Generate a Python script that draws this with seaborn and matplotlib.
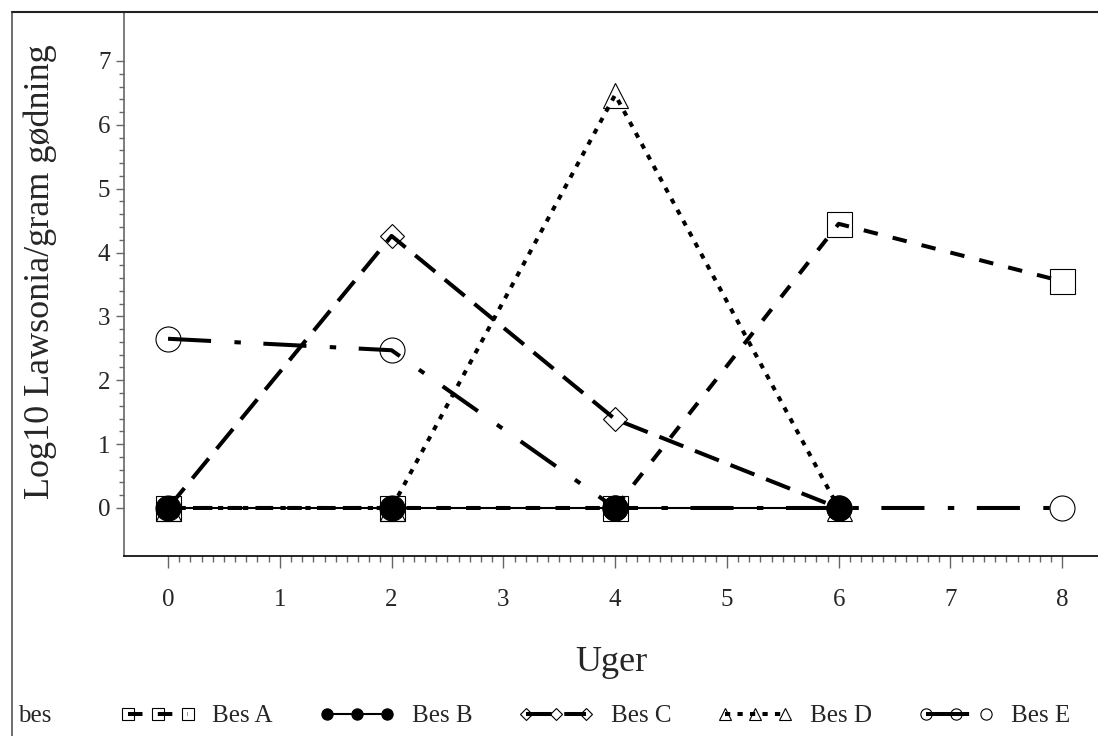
import matplotlib
matplotlib.use("Agg")
import matplotlib.pyplot as plt
from matplotlib.lines import Line2D
from matplotlib.ticker import FixedLocator
import seaborn as sns

# data (log10 Lawsonia per gram manure)
uger = [0, 2, 4, 6, 8]
bes_a = [0.0, 0.0, 0.0, 4.45, 3.55]
bes_b = [0.0, 0.0, 0.0, 0.0]
bes_c = [0.0, 4.26, 1.39, 0.0]
bes_d = [0.0, 0.0, 6.47, 0.0]
bes_e = [2.65, 2.47, 0.0, 0.0, 0.0]
navne = ["Bes A", "Bes B", "Bes C", "Bes D", "Bes E"]

serier = {
    "Bes A": bes_a,
    "Bes B": bes_b,
    "Bes C": bes_c,
    "Bes D": bes_d,
    "Bes E": bes_e,
}

# marker, marker size, face colour, dash pattern (in linewidths), line width
stil = {
    "Bes A": ("s", 18, "none", (0, (3.6, 3.8)), 2.9),
    "Bes B": ("o", 18, "black", "-", 1.5),
    "Bes C": ("D", 12.7, "none", (0, (6.4, 3.1)), 2.9),
    "Bes D": ("^", 18, "none", (0, (1.3, 1.8)), 2.9),
    "Bes E": ("o", 18, "none", (0, (10.7, 5.8, 1.6, 5.6)), 2.9),
}

sns.set_style("ticks")
plt.rcParams["font.family"] = ["Liberation Serif", "DejaVu Serif"]

fig = plt.figure(figsize=(10.98, 7.36), dpi=100)
ax = fig.add_axes([124 / 1098, 180 / 736, 974 / 1098, 544 / 736])

# draw B last so the filled circles sit on top
for navn in ["Bes A", "Bes C", "Bes D", "Bes E", "Bes B"]:
    marker, ms, mfc, ls, lw = stil[navn]
    verdier = serier[navn]
    sns.lineplot(
        x=uger[: len(verdier)],
        y=verdier,
        ax=ax,
        color="black",
        linewidth=lw,
        linestyle=ls,
        marker=marker,
        markersize=ms,
        markerfacecolor=mfc,
        markeredgecolor="black",
        markeredgewidth=0.8,
        label=navn,
    )

if ax.get_legend() is not None:
    ax.get_legend().remove()

ax.set_xlim(-0.394, 8.32)
ax.set_ylim(-0.752, 7.767)
ax.set_xticks(range(0, 9))
ax.set_yticks(range(0, 8))
x_minor = [v / 10 for v in range(1, 80) if v % 10 != 0]
y_minor = [v / 5 for v in range(1, 35) if v % 5 != 0]
ax.xaxis.set_minor_locator(FixedLocator(x_minor))
ax.yaxis.set_minor_locator(FixedLocator(y_minor))

ax.tick_params(axis="x", which="major", length=8.6, width=1, color="#666666",
               pad=15, labelsize=18)
ax.tick_params(axis="x", which="minor", length=4.3, width=1, color="#666666")
ax.tick_params(axis="y", which="major", length=5.8, width=1, color="#666666",
               pad=4, labelsize=18)
ax.tick_params(axis="y", which="minor", length=3.6, width=1, color="#666666")

sns.despine(ax=ax, top=True, right=True)
ax.spines["left"].set_color("#666666")
ax.spines["left"].set_linewidth(1.2)
ax.spines["bottom"].set_color("black")
ax.spines["bottom"].set_linewidth(1.2)

ax.set_xlabel("Uger", fontsize=26)
ax.xaxis.set_label_coords(0.5, -0.196)
ax.xaxis.label.set_va("center")
ax.set_ylabel("Log10 Lawsonia/gram gødning", fontsize=26)
ax.yaxis.set_label_coords(-0.086, 0.522)
ax.yaxis.label.set_va("center")

# legend row at the bottom, in A..E order
handles, labels = ax.get_legend_handles_labels()
order = [labels.index(n) for n in navne]
fig.legend(
    [handles[i] for i in order],
    [labels[i] for i in order],
    loc="center left",
    bbox_to_anchor=(120 / 1098, 1 - 716 / 736),
    ncol=5,
    frameon=False,
    borderpad=0,
    borderaxespad=0,
    handlelength=3.0,
    handletextpad=0.7,
    columnspacing=1.85,
    markerscale=0.45,
    numpoints=3,
    fontsize=18,
)
fig.text(18 / 1098, 1 - 716 / 736, "bes", fontsize=18, va="center", ha="left")

# outer frame lines (left and top)
fig.add_artist(Line2D([12 / 1098, 12 / 1098], [0, 1 - 12 / 736],
                      transform=fig.transFigure, color="#555555", lw=1.2))
fig.add_artist(Line2D([12 / 1098, 1], [1 - 12 / 736, 1 - 12 / 736],
                      transform=fig.transFigure, color="#222222", lw=1.5))

fig.savefig("out.png", dpi=100)
